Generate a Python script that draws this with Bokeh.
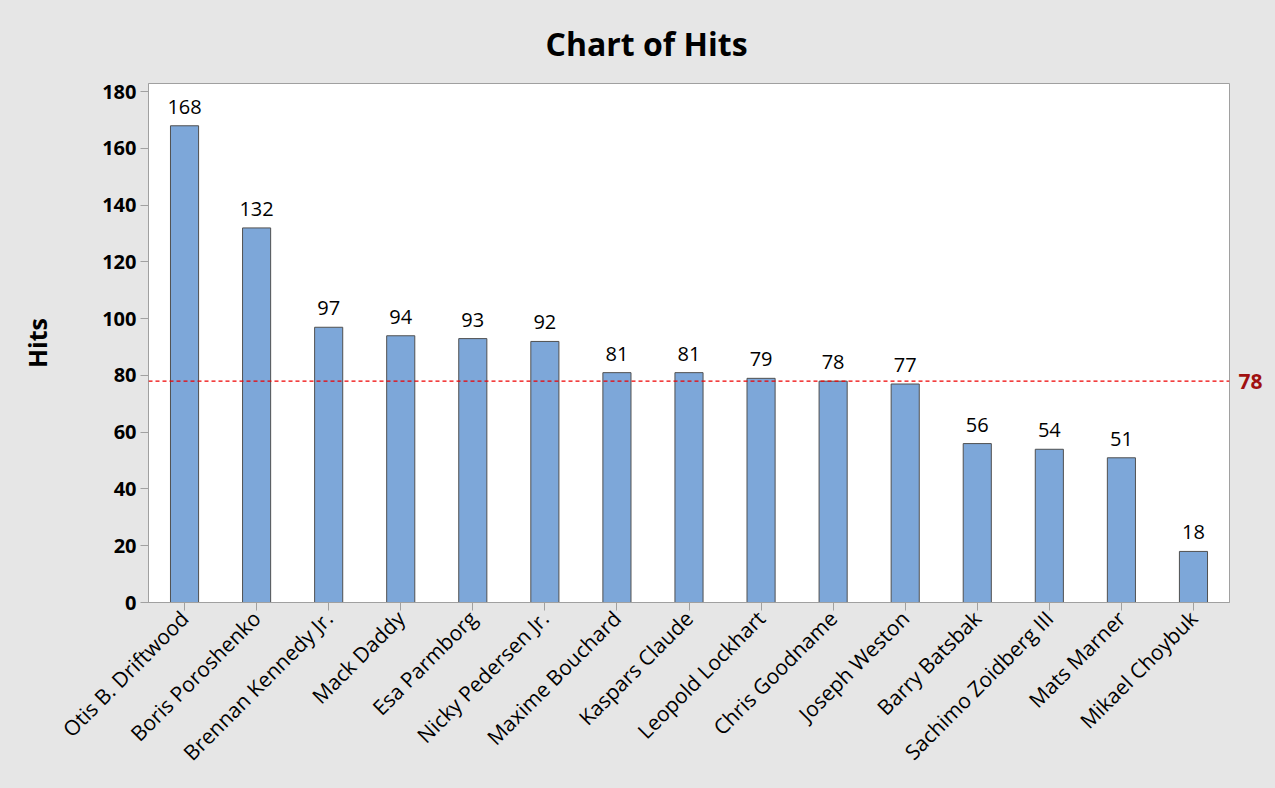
from bokeh.plotting import figure
from bokeh.models import ColumnDataSource, FactorRange, Range1d, Span, LinearAxis, FixedTicker, LabelSet
from bokeh.core.properties import value
from bokeh.embed import file_html
from bokeh.resources import INLINE
import math

players = ["Otis B. Driftwood", "Boris Poroshenko", "Brennan Kennedy Jr.", "Mack Daddy",
           "Esa Parmborg", "Nicky Pedersen Jr.", "Maxime Bouchard", "Kaspars Claude",
           "Leopold Lockhart", "Chris Goodname", "Joseph Weston", "Barry Batsbak",
           "Sachimo Zoidberg III", "Mats Marner", "Mikael Choybuk"]
hits = [168, 132, 97, 94, 93, 92, 81, 81, 79, 78, 77, 56, 54, 51, 18]
reference_value = 78
y_ticks = [0, 20, 40, 60, 80, 100, 120, 140, 160, 180]

FONT = "Open Sans"
BG = "#e6e6e6"
GRAY = "#a0a0a0"

src = ColumnDataSource(dict(x=players, top=hits, lab=[str(h) for h in hits]))

p = figure(width=1275, height=788, x_range=FactorRange(*players, range_padding=0),
           y_range=Range1d(0, 182.9), output_backend="svg", toolbar_location=None,
           min_border_left=148, min_border_right=46, min_border_top=81, min_border_bottom=186)

p.background_fill_color = "white"
p.border_fill_color = BG
p.outline_line_color = GRAY
p.outline_line_width = 1
p.xgrid.visible = False
p.ygrid.visible = False

p.title.text = "Chart of Hits"
p.title.text_font = FONT
p.title.text_font_size = "32px"
p.title.text_font_style = "bold"
p.title.text_color = "black"
p.title.align = "left"
p.title.offset = 397
p.title.standoff = 38

p.vbar(x="x", top="top", width=0.39, source=src, fill_color="#7da7d9",
       line_color="#505050", line_width=1)

labels = LabelSet(x="x", y="top", text="lab", source=src, text_align="center",
                  text_baseline="bottom", y_offset=12, text_font=value(FONT),
                  text_font_size=value("20px"), text_color="black")
p.add_layout(labels)

p.add_layout(Span(location=reference_value, dimension="width", line_color="#ee0000",
                  line_dash="4 3", line_width=1.2))

# y axis
ya = p.yaxis[0]
ya.ticker = FixedTicker(ticks=y_ticks)
ya.axis_label = "Hits"
ya.axis_label_text_font = FONT
ya.axis_label_text_font_size = "25px"
ya.axis_label_text_font_style = "bold"
ya.axis_label_text_color = "black"
ya.axis_label_standoff = 45
ya.major_label_text_font = FONT
ya.major_label_text_font_size = "20px"
ya.major_label_text_font_style = "bold"
ya.major_label_text_color = "black"
ya.major_label_standoff = 4
ya.axis_line_color = GRAY
ya.major_tick_line_color = GRAY
ya.major_tick_out = 8
ya.major_tick_in = 0
ya.minor_tick_line_color = None

xa = p.xaxis[0]
xa.major_label_orientation = math.pi / 4
xa.major_label_text_font = FONT
xa.major_label_text_font_size = "21px"
xa.major_label_text_color = "black"
xa.major_label_standoff = 4
xa.axis_line_color = GRAY
xa.major_tick_line_color = GRAY
xa.major_tick_out = 8
xa.major_tick_in = 0

# right axis used for reference line value label
ra = LinearAxis(ticker=FixedTicker(ticks=[reference_value]))
ra.axis_line_color = None
ra.major_tick_line_color = None
ra.minor_tick_line_color = None
ra.major_label_text_font = FONT
ra.major_label_text_font_size = "21px"
ra.major_label_text_font_style = "bold"
ra.major_label_text_color = "#a01010"
ra.major_label_standoff = 3
p.add_layout(ra, "right")

html = file_html(p, INLINE)
html = html.replace("</head>", "<style>html,body{background:%s;margin:0;overflow:hidden;}</style></head>" % BG, 1)
open("out.html", "w").write(html)
